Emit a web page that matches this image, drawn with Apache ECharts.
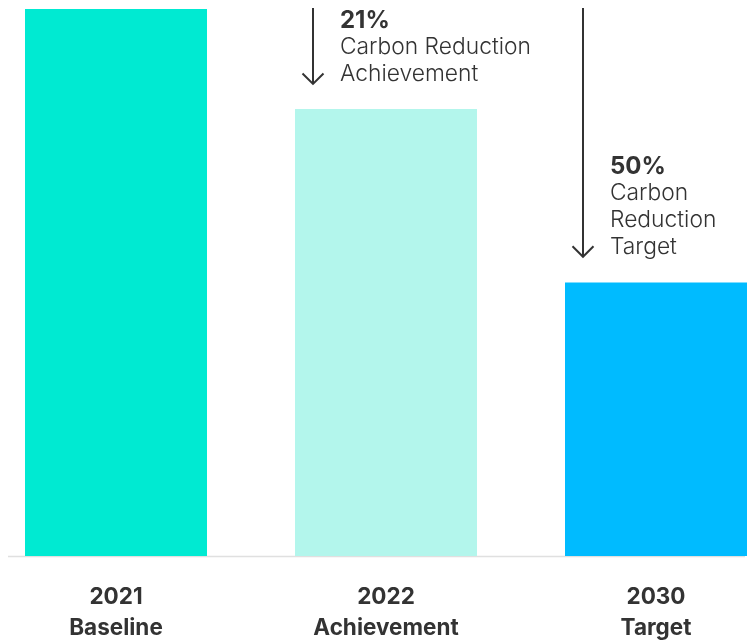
<!DOCTYPE html>
<html><head><meta charset="utf-8">
<script src="https://cdn.jsdelivr.net/npm/echarts@6/dist/echarts.min.js"></script>
<style>html,body{margin:0;padding:0;background:#fff}#c{width:753px;height:642px}</style>
</head><body><div id="c"></div>
<script>
const years = ['2021', '2022', '2030'];
const labels = ['Baseline', 'Achievement', 'Target'];
const values = [100, 81.7, 50];
const barColors = ['#00EAD2', '#B3F6EC', '#00BBFF'];
// annotations: category index, arrow start value, arrow tip value, percent text, description lines
const annCats = [1, 2];
const annFrom = [100, 100];
const annTo = [86.3, 54.7];
const annPct = ['21%', '50%'];
const annText = [['Carbon Reduction', 'Achievement'], ['Carbon', 'Reduction', 'Target']];

const FONT = 'Inter';
const chart = echarts.init(document.getElementById('c'));
chart.setOption({
  animation: false,
  grid: { left: -19, width: 810, top: 9, bottom: 86, containLabel: false, outerBoundsMode: 'none' },
  xAxis: {
    type: 'category',
    data: years.map((y, i) => y + '\n' + labels[i]),
    axisLine: { show: false },
    axisTick: { show: false },
    axisLabel: { margin: 26, color: '#333', fontFamily: FONT, fontWeight: 700, fontSize: 22.5, lineHeight: 31 }
  },
  yAxis: { type: 'value', min: 0, max: 100, show: false, splitLine: { show: false } },
  series: [
    {
      type: 'bar',
      barWidth: 182,
      data: values.map((v, i) => ({ value: v, itemStyle: { color: barColors[i] } })),
      z: 2
    },
    {
      type: 'custom',
      data: annCats.map((c, i) => [c, annFrom[i], annTo[i], i]),
      z: 5,
      renderItem: function (params, api) {
        const idx = api.value(3);
        const p0 = api.coord([api.value(0), api.value(1)]);
        const p1 = api.coord([api.value(0), api.value(2)]);
        const x = p0[0] - 73;
        const y0 = p0[1] - 1;
        const y1 = p1[1];
        const children = [
          { type: 'line', shape: { x1: x, y1: y0, x2: x, y2: y1 }, style: { stroke: '#333', lineWidth: 2 } },
          { type: 'polyline', shape: { points: [[x - 10.5, y1 - 10.5], [x, y1], [x + 10.5, y1 - 10.5]] }, style: { stroke: '#333', lineWidth: 2, fill: null } }
        ];
        const lines = [annPct[idx]].concat(annText[idx]);
        const n = lines.length;
        lines.forEach((t, k) => {
          const cy = y1 - 9.5 - 27 * (n - 1 - k);
          children.push({
            type: 'text',
            style: {
              text: t, x: x + 27, y: cy,
              textAlign: 'left', textVerticalAlign: 'middle',
              fill: '#333',
              font: (k === 0 ? '700 24px ' : '300 22.8px ') + FONT
            }
          });
        });
        return { type: 'group', children: children };
      }
    }
  ],
  graphic: []
});
// baseline axis line across the plot
const yb = chart.convertToPixel({ yAxisIndex: 0 }, 0);
chart.setOption({ graphic: [{ type: 'line', shape: { x1: 8, y1: yb + 0.5, x2: 745, y2: yb + 0.5 }, style: { stroke: '#E0E0E0', lineWidth: 1.5 }, z: 1 }] });
</script></body></html>
